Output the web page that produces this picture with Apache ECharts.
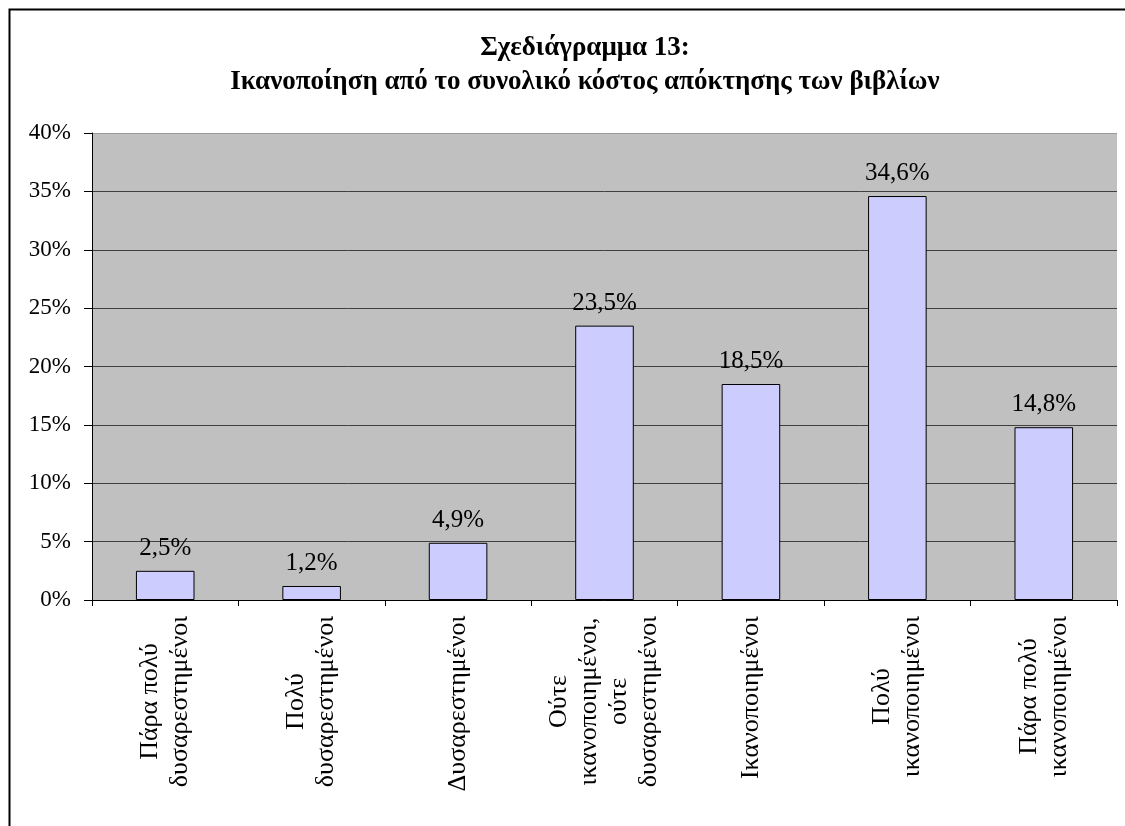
<!DOCTYPE html>
<html>
<head>
<meta charset="utf-8">
<script src="https://cdn.jsdelivr.net/npm/echarts@6/dist/echarts.min.js"></script>
<style>
  html, body { margin: 0; padding: 0; background: #ffffff; }
  #chart { width: 1125px; height: 826px; }
</style>
</head>
<body>
<div id="chart"></div>
<script>
// Satisfaction with the total cost of acquiring the books (share of respondents, %)
const titleLines = ['Σχεδιάγραμμα 13:', 'Ικανοποίηση από το συνολικό κόστος απόκτησης των βιβλίων'];
const categories = [
  'Πάρα πολύ\nδυσαρεστημένοι',
  'Πολύ\nδυσαρεστημένοι',
  'Δυσαρεστημένοι',
  'Ούτε\nικανοποιημένοι,\nούτε\nδυσαρεστημένοι',
  'Ικανοποιημένοι',
  'Πολύ\nικανοποιημένοι',
  'Πάρα πολύ\nικανοποιημένοι'
];
const values = [2.5, 1.2, 4.9, 23.5, 18.5, 34.6, 14.8];
const yTicks = [0, 5, 10, 15, 20, 25, 30, 35, 40];

const FONT = "'Liberation Serif', 'Times New Roman', serif";
const CAT_FS = 26;

// Each rotated category label: lines centred on the longest line of that label
const ctx = document.createElement('canvas').getContext('2d');
ctx.font = CAT_FS + 'px ' + FONT;
const rich = {};
categories.forEach((c, i) => {
  const w = Math.max(...c.split('\n').map(l => ctx.measureText(l).width));
  rich['r' + i] = {
    width: Math.ceil(w) + 1, align: 'center', fontFamily: FONT, fontSize: CAT_FS,
    lineHeight: 30, color: '#000'
  };
});

const fmtPct = v => v.toFixed(1).replace('.', ',') + '%';

const chart = echarts.init(document.getElementById('chart'), null, { renderer: 'canvas' });
chart.setOption({
  backgroundColor: '#ffffff',
  animation: false,
  title: {
    text: titleLines.join('\n'),
    left: 580, top: 26, textAlign: 'center',
    textStyle: { fontFamily: FONT, fontSize: 27, fontWeight: 'bold', color: '#000', lineHeight: 34 }
  },
  graphic: [{
    type: 'rect', left: 7, top: 7, silent: true,
    shape: { width: 1200, height: 900 },
    style: { fill: 'none', stroke: '#000', lineWidth: 2 }
  }],
  grid: {
    left: 92, right: 8, top: 133, bottom: 226,
    show: true, backgroundColor: '#C0C0C0', borderWidth: 0
  },
  xAxis: {
    type: 'category',
    data: categories,
    boundaryGap: true,
    axisLine: { show: true, lineStyle: { color: '#000', width: 1 } },
    axisTick: { show: true, length: 6, lineStyle: { color: '#000' } },
    axisLabel: {
      rotate: 90, margin: 15, interval: 0,
      fontFamily: FONT, fontSize: CAT_FS, color: '#000',
      formatter: (v, i) => v.split('\n').map(l => '{r' + i + '|' + l + '}').join('\n'),
      rich: rich
    },
    splitLine: { show: false }
  },
  yAxis: {
    type: 'value',
    min: yTicks[0], max: yTicks[yTicks.length - 1], interval: 5,
    axisLine: { show: true, lineStyle: { color: '#000', width: 1 } },
    axisTick: { show: true, length: 8, lineStyle: { color: '#000' } },
    axisLabel: {
      margin: 21, fontFamily: FONT, fontSize: 23, color: '#000',
      formatter: v => v + '%'
    },
    splitLine: {
      show: true,
      lineStyle: { color: ['#404040', '#404040', '#404040', '#404040', '#404040', '#404040', '#404040', '#404040', '#9a9a9a'], width: 1 }
    }
  },
  series: [{
    type: 'bar',
    data: values,
    barWidth: '40%',
    itemStyle: { color: '#CCCCFF', borderColor: '#000', borderWidth: 1 },
    label: {
      show: true, position: 'top', distance: 10,
      fontFamily: FONT, fontSize: 25, color: '#000',
      formatter: p => fmtPct(p.value)
    }
  }]
});
</script>
</body>
</html>
